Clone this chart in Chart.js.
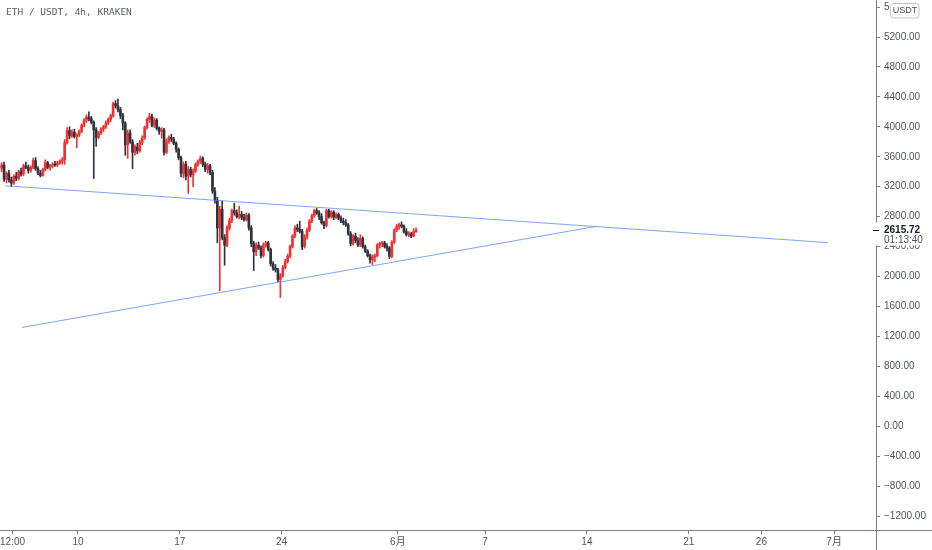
<!DOCTYPE html>
<html>
<head>
<meta charset="utf-8">
<script src="https://cdn.jsdelivr.net/npm/chart.js@4"></script>
<style>
html,body{margin:0;padding:0;background:#ffffff;}
canvas{display:block;}
</style>
</head>
<body>
<canvas id="c" width="932" height="550"></canvas>
<script>
// ---- data (ETH/USDT 4h candles) ----
const opens  = [3450,3490,3300,3380,3290,3250,3340,3310,3400,3370,3480,3460,3420,3460,3550,3440,3380,3350,3430,3520,3460,3480,3500,3490,3520,3540,3560,3790,3950,3880,3930,3870,3890,3940,4020,4090,4130,4110,4060,3960,3860,3920,3970,4000,4050,4100,4150,4310,4280,4230,4150,4050,3760,3920,3800,3660,3730,3680,3790,3850,3990,4100,4140,4020,4090,3980,3940,3960,3660,3810,3860,3840,3780,3700,3590,3380,3500,3340,3430,3360,3410,3500,3540,3580,3500,3430,3480,3390,3140,3020,2650,2900,2520,2420,2650,2750,2880,2850,2800,2830,2790,2760,2820,2650,2440,2330,2420,2380,2280,2420,2450,2360,2170,2110,2090,1960,2010,2120,2200,2270,2400,2540,2650,2630,2600,2400,2530,2620,2740,2810,2880,2850,2800,2720,2680,2880,2800,2860,2790,2830,2780,2740,2720,2690,2570,2440,2540,2480,2420,2510,2400,2340,2280,2220,2260,2280,2420,2440,2450,2400,2380,2270,2460,2620,2670,2690,2670,2600,2560,2570,2540,2600];
const highs  = [3520,3530,3400,3420,3330,3360,3390,3420,3450,3500,3530,3490,3480,3580,3590,3470,3420,3450,3560,3540,3500,3520,3540,3540,3560,3590,3830,3990,4000,3960,3970,3910,3960,4040,4110,4160,4200,4140,4080,3990,3940,3990,4020,4080,4120,4170,4330,4350,4370,4260,4180,4070,3960,3960,3830,3760,3780,3820,3880,4010,4120,4180,4170,4120,4110,4000,3990,3980,3840,3880,3900,3860,3800,3720,3610,3530,3540,3470,3460,3440,3520,3560,3610,3600,3530,3510,3500,3420,3190,3060,2940,3010,2560,2680,2780,2900,2980,2890,2940,2870,2830,2850,2840,2680,2470,2450,2460,2410,2450,2470,2470,2380,2200,2160,2110,2040,2150,2230,2300,2420,2560,2680,2700,2740,2630,2560,2650,2760,2830,2900,2910,2880,2840,2740,2900,2900,2880,2880,2850,2850,2810,2780,2760,2710,2600,2560,2580,2520,2560,2530,2420,2360,2300,2290,2300,2440,2460,2470,2470,2440,2400,2480,2640,2700,2710,2730,2690,2640,2600,2590,2640,2650];
const lows   = [3400,3270,3250,3260,3200,3230,3280,3290,3340,3350,3440,3380,3390,3440,3420,3360,3330,3340,3410,3440,3420,3450,3470,3470,3500,3500,3500,3770,3840,3860,3850,3720,3870,3920,4000,4060,4080,4040,3310,3740,3840,3900,3940,3980,4030,4070,4130,4250,4200,4110,3960,3620,3580,3780,3440,3620,3640,3660,3760,3830,3970,4060,4000,3990,3960,3900,3850,3620,3640,3780,3800,3760,3660,3560,3330,3320,3290,3110,3330,3200,3390,3470,3510,3470,3400,3380,3360,3110,2980,2450,1810,2490,2150,2400,2620,2720,2820,2780,2770,2760,2740,2740,2620,2400,2080,2280,2360,2250,2260,2390,2340,2140,2080,2060,1930,1720,1990,2100,2180,2250,2380,2520,2600,2580,2360,2380,2500,2600,2720,2790,2830,2760,2700,2640,2660,2780,2780,2760,2770,2760,2720,2690,2670,2550,2410,2420,2450,2400,2400,2380,2320,2260,2180,2160,2200,2260,2380,2400,2380,2340,2240,2250,2440,2600,2630,2650,2580,2540,2530,2520,2530,2590];
const closes = [3490,3300,3380,3290,3250,3340,3310,3400,3370,3480,3460,3420,3460,3550,3440,3380,3350,3430,3520,3460,3480,3500,3490,3520,3540,3560,3790,3950,3880,3930,3870,3890,3940,4020,4090,4130,4110,4060,3960,3860,3920,3970,4000,4050,4100,4150,4310,4280,4230,4150,4050,3760,3920,3800,3660,3730,3680,3790,3850,3990,4100,4140,4020,4090,3980,3940,3960,3660,3810,3860,3840,3780,3700,3590,3380,3500,3340,3430,3360,3410,3500,3540,3580,3500,3430,3480,3390,3140,3020,2650,2900,2520,2420,2650,2750,2880,2850,2800,2830,2790,2760,2820,2650,2440,2330,2420,2380,2280,2420,2450,2360,2170,2110,2090,1960,2010,2120,2200,2270,2400,2540,2650,2630,2600,2400,2530,2620,2740,2810,2880,2850,2800,2720,2680,2880,2800,2860,2790,2830,2780,2740,2720,2690,2570,2440,2540,2480,2420,2510,2400,2340,2280,2220,2260,2280,2420,2440,2450,2400,2380,2270,2460,2620,2670,2690,2670,2600,2560,2570,2540,2600,2615.72];

// time axis: day-of-May (June days continue as 31 + day)
const firstCandleDay = 4.75;
const candleStepDays = 4 / 24;
const xTickDays   = [5.5, 10, 17, 24, 32, 38, 45, 52, 57, 62];
const xTickLabels = ['12:00', '10', '17', '24', '6月', '7', '14', '21', '26', '7月'];
const yTickValues = [-1200, -800, -400, 0, 400, 800, 1200, 1600, 2000, 2400, 2800, 3200, 3600, 4000, 4400, 4800, 5200, 5600];

// drawn trend lines [day, price]
const trendUpper = [[4.98, 3213], [61.58, 2453]];
const trendLower = [[6.15, 1320], [45.56, 2667]];

const symbolTitle = 'ETH / USDT, 4h, KRAKEN';
const lastPrice = 2615.72;
const countdown = '01:13:40';
const currencyBadge = 'USDT';

// ---- styles ----
const UP = '#f23232';
const DOWN = '#2f333e';
const TREND = 'rgba(82,136,238,0.75)';
const AXIS = '#7b7f8a';
const TXT = '#50535e';
const FONT = "'Liberation Sans', Arial, 'Noto Sans CJK SC', sans-serif";

const times = opens.map((_, i) => firstCandleDay + i * candleStepDays);
const candleColor = opens.map((o, i) => closes[i] >= o ? UP : DOWN);

const overlay = {
  id: 'overlay',
  afterDraw(chart) {
    const ctx = chart.ctx;
    const ca = chart.chartArea;
    const yS = chart.scales.y;
    ctx.save();
    // axis frame lines
    ctx.strokeStyle = AXIS;
    ctx.lineWidth = 1;
    ctx.beginPath();
    ctx.moveTo(0, Math.round(ca.bottom) + 0.5);
    ctx.lineTo(932, Math.round(ca.bottom) + 0.5);
    ctx.moveTo(Math.round(ca.right) + 0.5, 0);
    ctx.lineTo(Math.round(ca.right) + 0.5, 550);
    ctx.stroke();

    // last price label with countdown
    const py = yS.getPixelForValue(lastPrice);
    ctx.fillStyle = '#ffffff';
    ctx.fillRect(Math.round(ca.right) - 3, py - 8, 60, 23);
    ctx.strokeStyle = '#131722';
    ctx.beginPath();
    ctx.moveTo(Math.round(ca.right) - 3, Math.round(py) + 0.5);
    ctx.lineTo(Math.round(ca.right) + 3, Math.round(py) + 0.5);
    ctx.stroke();
    ctx.textBaseline = 'middle';
    ctx.textAlign = 'left';
    ctx.fillStyle = '#131722';
    ctx.font = 'bold 10px ' + FONT;
    ctx.fillText(lastPrice.toFixed(2), ca.right + 8, py);
    ctx.fillStyle = TXT;
    ctx.font = '10px ' + FONT;
    ctx.fillText(countdown, ca.right + 8, py + 10);

    // currency badge (hides the rest of the top price label)
    ctx.fillStyle = '#ffffff';
    ctx.fillRect(889, 0, 43, 20);
    const bx = 890, by = 3, bw = 29, bh = 15, r = 3;
    ctx.strokeStyle = '#c1c4cc';
    ctx.beginPath();
    ctx.moveTo(bx + r, by + 0.5);
    ctx.arcTo(bx + bw, by + 0.5, bx + bw, by + bh, r);
    ctx.arcTo(bx + bw, by + bh, bx, by + bh, r);
    ctx.arcTo(bx + 0.5, by + bh, bx + 0.5, by, r);
    ctx.arcTo(bx + 0.5, by + 0.5, bx + bw, by + 0.5, r);
    ctx.closePath();
    ctx.fill();
    ctx.stroke();
    ctx.fillStyle = TXT;
    ctx.font = '9px ' + FONT;
    ctx.textAlign = 'center';
    ctx.fillText(currencyBadge, bx + bw / 2 + 0.5, by + bh / 2 + 0.5);

    // symbol title
    ctx.textAlign = 'left';
    ctx.fillStyle = '#5d606b';
    ctx.font = "9.5px 'DejaVu Sans Mono', monospace";
    ctx.fillText(symbolTitle, 6, 13);
    ctx.restore();
  }
};

new Chart(document.getElementById('c'), {
  type: 'bar',
  data: {
    datasets: [
      {
        type: 'line',
        data: trendUpper.map(p => ({ x: p[0], y: p[1] })),
        borderColor: TREND, borderWidth: 1, pointRadius: 0, order: 0
      },
      {
        type: 'line',
        data: trendLower.map(p => ({ x: p[0], y: p[1] })),
        borderColor: TREND, borderWidth: 1, pointRadius: 0, order: 0
      },
      {
        type: 'bar',
        data: times.map((t, i) => ({ x: t, y: [lows[i], highs[i]] })),
        backgroundColor: candleColor,
        barThickness: 1, grouped: false, order: 2
      },
      {
        type: 'bar',
        data: times.map((t, i) => ({ x: t, y: [opens[i], closes[i]] })),
        backgroundColor: candleColor,
        barThickness: 2, minBarLength: 1, grouped: false, order: 1
      }
    ]
  },
  options: {
    responsive: false,
    devicePixelRatio: 1,
    animation: false,
    layout: { padding: 0 },
    plugins: { legend: { display: false }, tooltip: { enabled: false } },
    scales: {
      x: {
        type: 'linear',
        position: 'bottom',
        min: 4.636,
        max: 64.88,
        offset: false,
        afterBuildTicks: s => { s.ticks = xTickDays.map(v => ({ value: v })); },
        afterFit: s => { s.height = 20; s.paddingLeft = 0; s.paddingRight = 0; },
        ticks: {
          autoSkip: false, maxRotation: 0, padding: 2,
          color: TXT, font: { size: 10, family: FONT },
          callback: (v, i) => xTickLabels[i]
        },
        grid: { offset: false, drawOnChartArea: false, drawTicks: true, tickLength: 4, color: AXIS },
        border: { display: false }
      },
      y: {
        type: 'linear',
        position: 'right',
        min: -1387,
        max: 5695,
        afterBuildTicks: s => { s.ticks = yTickValues.map(v => ({ value: v })); },
        afterFit: s => { s.width = 56; s.paddingTop = 0; s.paddingBottom = 0; },
        ticks: {
          padding: 4, color: TXT, font: { size: 10, family: FONT },
          callback: v => (v < 0 ? '\u2212' + Math.abs(v).toFixed(2) : v.toFixed(2))
        },
        grid: { offset: false, drawOnChartArea: false, drawTicks: true, tickLength: 4, color: AXIS },
        border: { display: false }
      }
    }
  },
  plugins: [overlay]
});
</script>
</body>
</html>
